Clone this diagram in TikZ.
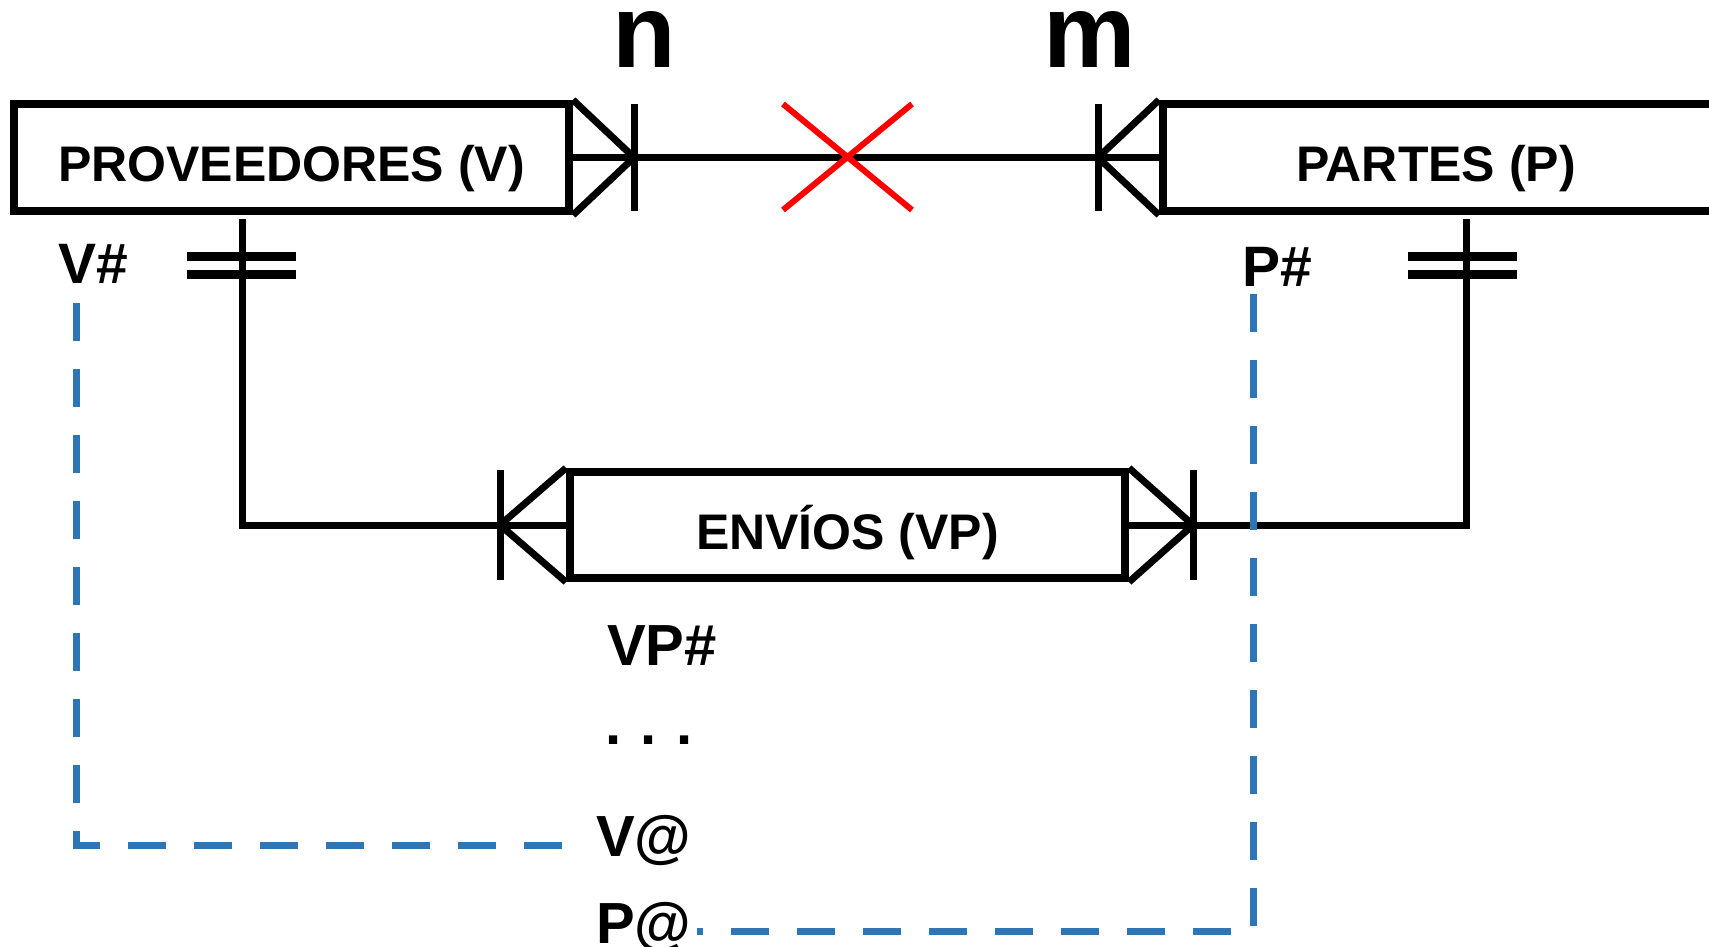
\documentclass[tikz,border=0pt]{standalone}
\usepackage{fontspec}
\setmainfont{Liberation Sans}
\usetikzlibrary{calc}
\definecolor{keyblue}{RGB}{46,117,182}
\begin{document}
\begin{tikzpicture}[x=1pt,y=-1pt,
  ebox/.style={draw, line width=8pt, inner sep=0pt, text height=49pt, text depth=0pt,
    font=\fontsize{50}{60}\selectfont\bfseries},
  conn/.style={line width=7pt},
  foot/.style={line width=7pt},
  keybar/.style={line width=9pt},
  keydash/.style={draw=keyblue, line width=7pt, dash pattern=on 38pt off 28pt},
  lbl/.style={inner sep=0pt, anchor=base west, font=\fontsize{58}{66}\selectfont\bfseries},
  card/.style={inner sep=0pt, anchor=base, font=\fontsize{104}{110}\selectfont\bfseries}
]
\useasboundingbox (0,0) rectangle (1709,947);
\clip (0,0) rectangle (1709,947);

% entity boxes
\node[ebox, minimum width=555pt, minimum height=107pt] (prov) at (291.5,157.5) {PROVEEDORES (V)};
\node[ebox, minimum width=560pt, minimum height=107pt] (partes) at (1443,157.5) {\hspace*{-14pt}PARTES (P)};
\node[ebox, minimum width=555pt, minimum height=106pt] (envios) at (847.5,525) {ENVÍOS (VP)};

% cardinality labels
\node[card] (cn) at (644,68) {n};
\node[card] (cm) at (1090,68) {m};

% attribute labels
\node[lbl, font=\fontsize{57}{66}\selectfont\bfseries] (vh) at (58,283) {V\#};
\node[lbl, font=\fontsize{57}{66}\selectfont\bfseries] (ph) at (1242,286) {P\#};
\node[lbl] (vph) at (607,665) {VP\#};
\node[lbl] (dots) at (605,744) {.\,\,.\,\,.};
\node[lbl] (vat) at (596,856) {V@};
\node[lbl] (pat) at (596,943) {P@};

% n:m relationship line
\draw[conn] (prov.east) -- (partes.west);
% crow's foot at PROVEEDORES
\coordinate (ptip) at ($(prov.east)+(61,0)$);
\draw[foot] (prov.north east) -- (ptip) -- (prov.south east);
\draw[foot] ($(ptip)+(0,-53.5)$) -- ($(ptip)+(0,53.5)$);
% crow's foot at PARTES
\coordinate (qtip) at ($(partes.west)+(-61,0)$);
\draw[foot] (partes.north west) -- (qtip) -- (partes.south west);
\draw[foot] ($(qtip)+(0,-53.5)$) -- ($(qtip)+(0,53.5)$);

% red cross
\coordinate (xm) at (847.5,157);
\draw[red, line width=6pt] ($(xm)+(-64.5,-53)$) -- ($(xm)+(64.5,53)$);
\draw[red, line width=6pt] ($(xm)+(64.5,-53)$) -- ($(xm)+(-64.5,53)$);

% crow's feet at ENVIOS
\coordinate (etipl) at ($(envios.west)+(-66,0)$);
\coordinate (etipr) at ($(envios.east)+(64,0)$);
\draw[foot] (envios.north west) -- (etipl) -- (envios.south west);
\draw[foot] ($(etipl)+(0,-55)$) -- ($(etipl)+(0,55)$);
\draw[foot] (envios.north east) -- (etipr) -- (envios.south east);
\draw[foot] ($(etipr)+(0,-55)$) -- ($(etipr)+(0,55)$);

% 1:n connectors
\coordinate (vkey) at (242,219);
\coordinate (pkey) at (1466,219);
\draw[conn] (envios.west) -| (vkey);
\draw[conn] (envios.east) -| (pkey);
\draw[keybar] (187,256) -- (296,256);
\draw[keybar] (187,274) -- (296,274);
\draw[keybar] (1408,256) -- (1517,256);
\draw[keybar] (1408,274) -- (1517,274);

% foreign key dashed links
\coordinate (vtop) at (76,303);
\coordinate (ptop) at (1253,294);
\draw[keydash] (vtop) |- ([xshift=-24pt,yshift=-5pt]vat.west);
\draw[keydash] (ptop) |- ([xshift=5pt,yshift=-4.5pt]pat.east);
\end{tikzpicture}
\end{document}
